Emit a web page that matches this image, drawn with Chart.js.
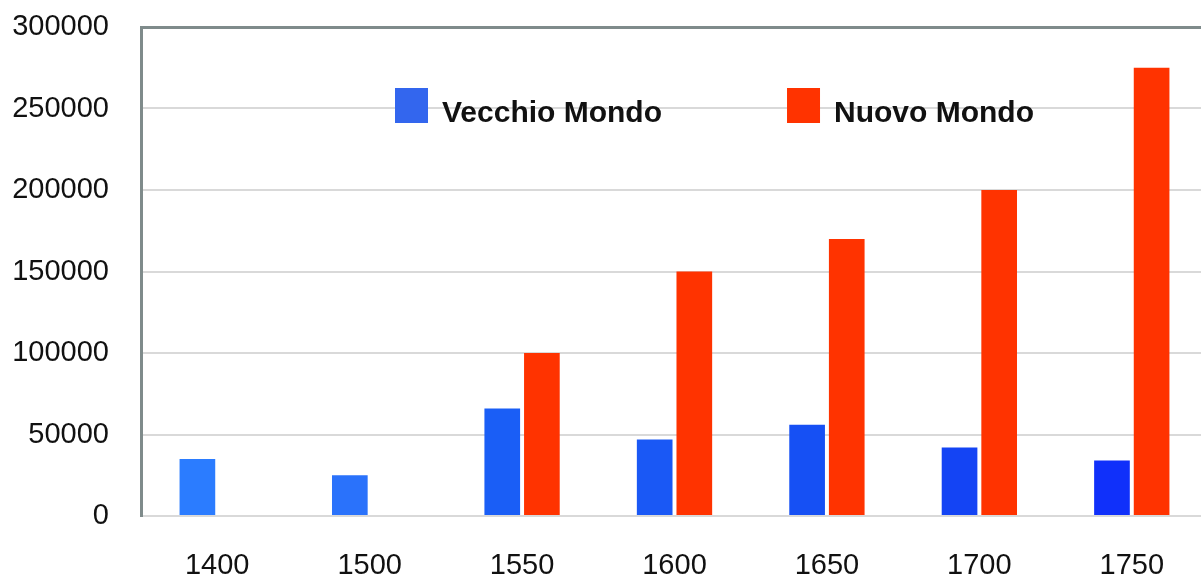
<!DOCTYPE html>
<html>
<head>
<meta charset="utf-8">
<script src="https://cdn.jsdelivr.net/npm/chart.js@4/dist/chart.umd.min.js"></script>
<style>
html, body { margin: 0; padding: 0; background: #ffffff; overflow: hidden; }
#c { display: block; }
</style>
</head>
<body>
<canvas id="c" width="1208" height="577"></canvas>
<script>
// ---- data ----
const categories = ['1400', '1500', '1550', '1600', '1650', '1700', '1750'];
const seriesNames = ['Vecchio Mondo', 'Nuovo Mondo'];
const vecchioMondo = [35000, 25000, 66000, 47000, 56000, 42000, 34000];
const nuovoMondo = [null, null, 100000, 150000, 170000, 200000, 275000];
const yTickValues = [0, 50000, 100000, 150000, 200000, 250000, 300000];

// ---- styles ----
const vecchioColors = ['#2b7cff', '#2a72fb', '#1a5ef6', '#1a58f5', '#1650f4', '#1444f4', '#1030fa'];
const nuovoColor = '#ff3300';
const legendColors = ['#3366ee', '#ff3300'];
const frameColor = '#7f8b8b';
const gridColor = '#d9d9d9';
const tickFont = { family: '"Liberation Sans", Arial, sans-serif', size: 29, lineHeight: 1.0 };

const insideLegend = {
  id: 'insideLegend',
  afterDraw(chart, args, opts) {
    const ctx = chart.ctx;
    ctx.save();
    ctx.font = opts.font;
    ctx.textBaseline = 'alphabetic';
    ctx.textAlign = 'left';
    let x = opts.x;
    chart.data.datasets.forEach((ds, i) => {
      ctx.fillStyle = legendColors[i];
      ctx.fillRect(x, opts.y, opts.boxW, opts.boxH);
      ctx.fillStyle = '#111111';
      const tx = x + opts.boxW + opts.textGap;
      ctx.fillText(ds.label, tx, opts.baseline);
      x = tx + ctx.measureText(ds.label).width + opts.itemGap;
    });
    ctx.restore();
  }
};

new Chart(document.getElementById('c'), {
  type: 'bar',
  data: {
    labels: categories,
    datasets: [
      { label: seriesNames[0], data: vecchioMondo, backgroundColor: vecchioColors, borderWidth: 0 },
      { label: seriesNames[1], data: nuovoMondo, backgroundColor: nuovoColor, borderWidth: 0 }
    ]
  },
  options: {
    responsive: false,
    animation: false,
    devicePixelRatio: 1,
    categoryPercentage: 0.52,
    barPercentage: 0.9,
    layout: { padding: { left: 10, top: 27, right: 0, bottom: 0 } },
    plugins: {
      legend: { display: false },
      tooltip: { enabled: false },
      insideLegend: {
        x: 395, y: 88, boxW: 33, boxH: 35, textGap: 14, itemGap: 125, baseline: 122,
        font: 'bold 30px "Liberation Sans", Arial, sans-serif'
      }
    },
    scales: {
      x: {
        afterFit: (a) => { a.height = 61; a.paddingTop = 0; a.paddingBottom = 0; },
        grid: { display: false, drawTicks: false },
        border: { display: false },
        ticks: { color: '#111111', font: tickFont, padding: 35, maxRotation: 0 }
      },
      y: {
        min: 0,
        max: 300000,
        afterFit: (a) => { a.width = 131; a.paddingTop = 0; a.paddingBottom = 0; },
        afterBuildTicks: (axis) => { axis.ticks = yTickValues.map(v => ({ value: v })); },
        ticks: {
          color: '#111111',
          font: tickFont,
          padding: 32,
          callback: (v) => String(v)
        },
        grid: {
          drawTicks: false,
          color: (c) => (c.tick && c.tick.value === 300000 ? frameColor : gridColor),
          lineWidth: (c) => (c.tick && c.tick.value === 300000 ? 3 : 2)
        },
        border: { display: true, color: frameColor, width: 3 }
      }
    }
  },
  plugins: [insideLegend]
});
</script>
</body>
</html>
